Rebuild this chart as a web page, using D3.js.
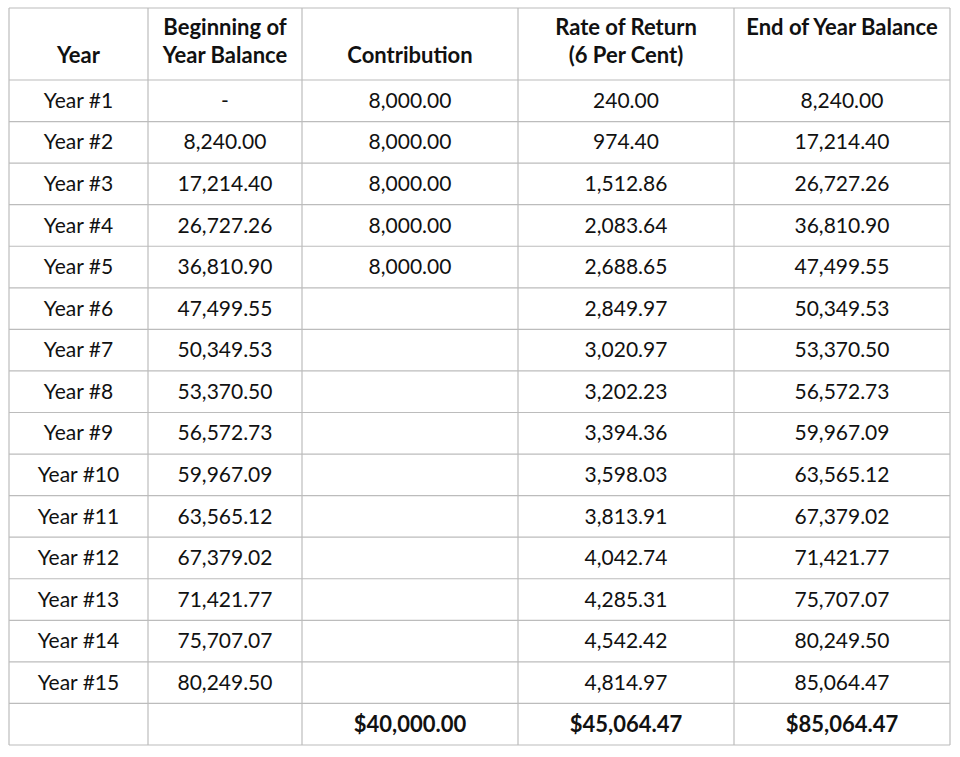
<!DOCTYPE html>
<html>
<head>
<meta charset="utf-8">
<script src="https://cdn.jsdelivr.net/npm/d3@7"></script>
<style>
  body { margin: 0; background: #fff; }
  text { font-family: Lato, "Open Sans", sans-serif; fill: #111; }
</style>
</head>
<body>
<div id="tableContainer"></div>
<script>
// Table data, one array per column
const years = d3.range(1, 16).map(i => 'Year #' + i);
const beginBalance = [null, 8240.00, 17214.40, 26727.26, 36810.90, 47499.55, 50349.53, 53370.50,
                      56572.73, 59967.09, 63565.12, 67379.02, 71421.77, 75707.07, 80249.50];
const contribution = [8000, 8000, 8000, 8000, 8000, null, null, null, null, null, null, null, null, null, null];
const rateReturn = [240.00, 974.40, 1512.86, 2083.64, 2688.65, 2849.97, 3020.97, 3202.23,
                    3394.36, 3598.03, 3813.91, 4042.74, 4285.31, 4542.42, 4814.97];
const endBalance = [8240.00, 17214.40, 26727.26, 36810.90, 47499.55, 50349.53, 53370.50, 56572.73,
                    59967.09, 63565.12, 67379.02, 71421.77, 75707.07, 80249.50, 85064.47];
const totals = [null, null, 40000.00, 45064.47, 85064.47];

// header lines: [line1, line2]; position 0 = top line, 1 = bottom line
const headers = [
    [null, 'Year'],
    ['Beginning of', 'Year Balance'],
    [null, 'Contribution'],
    ['Rate of Return', '(6 Per Cent)'],
    ['End of Year Balance', null]
];

// Layout
const width = 960, height = 757;
const colEdges = [9, 148, 302, 518, 734, 950];
const tableTop = 8, headBottom = 80, tableBottom = 745;
const nRows = years.length + 1;
const fontSize = 21;
const boldSize = 22;

const fmt = d3.format(',.2f');
const fmtTotal = v => '$' + fmt(v);

const svg = d3.select('#tableContainer')
    .append('svg')
    .attr('width', width)
    .attr('height', height);

const y = d3.scaleBand()
    .domain(d3.range(nRows))
    .range([headBottom, tableBottom]);

const colCenter = i => (colEdges[i] + colEdges[i + 1]) / 2;

// Build row cells
const rows = years.map((yr, i) => [
    yr,
    beginBalance[i] == null ? '-' : fmt(beginBalance[i]),
    contribution[i] == null ? '' : fmt(contribution[i]),
    fmt(rateReturn[i]),
    fmt(endBalance[i])
]);

// Grid lines
const grid = svg.append('g')
    .attr('stroke', '#bcbcbc')
    .attr('stroke-width', 1.2)
    .attr('fill', 'none');

grid.selectAll('line.v')
    .data(colEdges)
    .enter()
    .append('line')
    .attr('x1', d => d).attr('x2', d => d)
    .attr('y1', tableTop).attr('y2', tableBottom);

const hLines = [tableTop, headBottom].concat(d3.range(nRows).map(i => y(i) + y.bandwidth()));
grid.selectAll('line.h')
    .data(hLines)
    .enter()
    .append('line')
    .attr('x1', colEdges[0]).attr('x2', colEdges[colEdges.length - 1])
    .attr('y1', d => d).attr('y2', d => d);

// Header text
const headLineY = [35, 63];
headers.forEach((h, c) => {
    h.forEach((t, li) => {
        if (t == null) return;
        svg.append('text')
            .attr('x', colCenter(c))
            .attr('y', headLineY[li])
            .attr('text-anchor', 'middle')
            .attr('font-size', boldSize)
            .attr('font-weight', 'bold')
            .text(t);
    });
});

// Body rows
svg.append('g')
    .selectAll('g')
    .data(rows)
    .enter()
    .append('g')
    .selectAll('text')
    .data((d, i) => d.map(v => ({v: v, row: i})))
    .enter()
    .append('text')
    .attr('x', (d, c) => colCenter(c))
    .attr('y', d => y(d.row) + y.bandwidth() / 2)
    .attr('dy', '0.34em')
    .attr('text-anchor', 'middle')
    .attr('font-size', fontSize)
    .text(d => d.v);

// Totals row
svg.append('g')
    .selectAll('text')
    .data(totals)
    .enter()
    .append('text')
    .attr('x', (d, c) => colCenter(c))
    .attr('y', y(nRows - 1) + y.bandwidth() / 2)
    .attr('dy', '0.34em')
    .attr('text-anchor', 'middle')
    .attr('font-size', boldSize)
    .attr('font-weight', 'bold')
    .text(d => d == null ? '' : fmtTotal(d));
</script>
</body>
</html>
